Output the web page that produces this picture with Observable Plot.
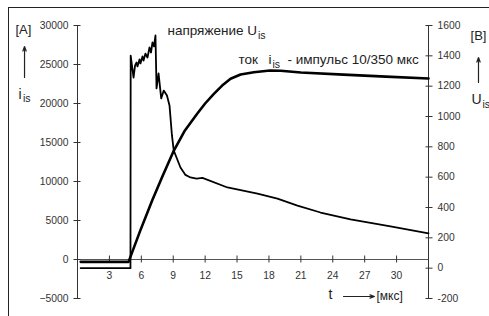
<!DOCTYPE html>
<html>
<head>
<meta charset="utf-8">
<script src="https://cdn.jsdelivr.net/npm/d3@7"></script>
<script src="https://cdn.jsdelivr.net/npm/@observablehq/plot@0.6"></script>
<style>
  html, body { margin: 0; padding: 0; background: white; }
</style>
</head>
<body>
<div id="chart"></div>
<script>
// ---- data ----
// current i_is [A] vs time t [µs]
const tCur = [0.3, 4.8, 5.9, 7.02, 8.0, 9.06, 10.1, 11.25, 12.0, 12.82, 13.6, 14.39, 15.33, 16.58, 18.1, 19.1, 21.0, 25.0, 29.0, 33.0];
const iCur = [-300, -300, 3700, 7560, 10700, 13970, 16550, 18680, 20000, 21240, 22300, 23170, 23720, 24010, 24230, 24200, 23970, 23700, 23450, 23200];
// voltage U_is [V] vs time t [µs]
const tVolt = [0.3, 4.98, 5.0, 5.27, 5.41, 5.55, 5.64, 5.83, 5.92, 6.11, 6.21, 6.39, 6.58, 6.77, 6.91, 7.05, 7.19, 7.33, 7.43, 7.62, 7.87, 8.11, 8.41, 8.65, 8.88, 9.05, 9.68, 10.15, 10.62, 11.19, 11.75, 14.1, 16.92, 18.8, 20.68, 22.85, 25.67, 29.43, 33.0];
const uVolt = [0, 0, 1402, 1257, 1336, 1356, 1330, 1376, 1350, 1396, 1369, 1415, 1389, 1455, 1422, 1488, 1462, 1534, 1185, 1284, 1119, 1171, 1139, 1073, 875, 776, 664, 615, 598, 591, 595, 532, 492, 459, 413, 367, 321, 275, 229];
// tick labels
const xTicks = [3, 6, 9, 12, 15, 18, 21, 24, 27, 30];
const iTicks = [-5000, 0, 5000, 10000, 15000, 20000, 25000, 30000];
const uTicks = [-200, 0, 200, 400, 600, 800, 1000, 1200, 1400, 1600];
const xDomain = [0, 33];
const iDomain = [-5000, 30000];
const uDomain = [-200, 1600];

// annotation texts (positions in data units: t, current scale)
const annotations = [
  {t: -5.83, i: 28974, text: "[A]", size: 13},
  {t: -5.55, i: 20641, text: "i", size: 14},
  {t: -5.12, i: 20256, text: "is", size: 10.5},
  {t: 36.95, i: 28205, text: "[B]", size: 13},
  {t: 37.04, i: 20000, text: "U", size: 14},
  {t: 38.08, i: 19487, text: "is", size: 10.5},
  {t: 8.46, i: 28846, text: "напряжение U", size: 13.5},
  {t: 16.97, i: 28333, text: "is", size: 10.5},
  {t: 15.14, i: 25064, text: "ток", size: 13.5},
  {t: 17.96, i: 25064, text: "i", size: 13.5},
  {t: 18.33, i: 24551, text: "is", size: 10.5},
  {t: 19.74, i: 25064, text: "- импульс 10/350 мкс", size: 13.5},
  {t: 23.6, i: -5064, text: "t", size: 14},
  {t: 28.11, i: -5256, text: "[мкс]", size: 12}
];
const arrows = [
  {t1: -4.98, i1: 23333, t2: -4.98, i2: 27308},
  {t1: 37.70, i1: 22692, t2: 37.70, i2: 25897},
  {t1: 25.01, i1: -4744, t2: 27.92, i2: -4744}
];

// ---- build ----
const vToI = v => iDomain[0] + (v - uDomain[0]) / (uDomain[1] - uDomain[0]) * (iDomain[1] - iDomain[0]);
const iToV = i => uDomain[0] + (i - iDomain[0]) / (iDomain[1] - iDomain[0]) * (uDomain[1] - uDomain[0]);

const current = tCur.map((t, k) => ({t, i: iCur[k]}));
const voltage = tVolt.map((t, k) => ({t, u: uVolt[k]}));

const W = 489, H = 316, mL = 77, mR = 61, mT = 25, mB = 18;
const yAt = d3.scaleLinear(iDomain, [H - mB, mT]);
const tickLen = 7;
const xAxisShift = yAt(0) - (H - mB) - tickLen / 2;

const chart = Plot.plot({
  width: W,
  height: H,
  marginLeft: mL,
  marginRight: mR,
  marginTop: mT,
  marginBottom: mB,
  x: {domain: xDomain},
  y: {domain: iDomain},
  style: {fontFamily: "'Liberation Sans', Arial, sans-serif", fontSize: "10.3px", color: "#333", background: "white", overflow: "visible"},
  marks: [
    Plot.frame({stroke: "#222", insetLeft: -69, insetTop: -18, insetRight: -70, insetBottom: -30}),
    Plot.ruleX([xDomain[0]], {stroke: "#333"}),
    Plot.ruleX([xDomain[1]], {stroke: "#333"}),
    Plot.ruleY([0], {stroke: "#555"}),
    Plot.axisY({anchor: "left", ticks: iTicks, tickFormat: d3.format("d"), tickSize: tickLen, dx: tickLen / 2, tickPadding: 5.5, label: null}),
    Plot.axisY({anchor: "right", ticks: uTicks.map(vToI), tickFormat: d => String(Math.round(iToV(d))), tickSize: tickLen, dx: -tickLen / 2, tickPadding: 5.5, label: null}),
    Plot.axisX({anchor: "bottom", ticks: xTicks, tickFormat: d3.format("d"), tickSize: tickLen, dy: xAxisShift, tickPadding: 9, label: null}),
    Plot.line(voltage, {x: "t", y: d => vToI(d.u), stroke: "#000", strokeWidth: 1.8, strokeLinejoin: "round"}),
    Plot.line(current, {x: "t", y: "i", stroke: "#000", strokeWidth: 2.6, strokeLinejoin: "round"}),
    Plot.text(annotations, {x: "t", y: "i", text: "text", fontSize: "size", textAnchor: "start", lineAnchor: "bottom", fill: "#222"}),
    Plot.arrow(arrows, {x1: "t1", y1: "i1", x2: "t2", y2: "i2", stroke: "#222", strokeWidth: 1.2, headLength: 6, headAngle: 40})
  ]
});
document.getElementById("chart").appendChild(chart);
</script>
</body>
</html>
